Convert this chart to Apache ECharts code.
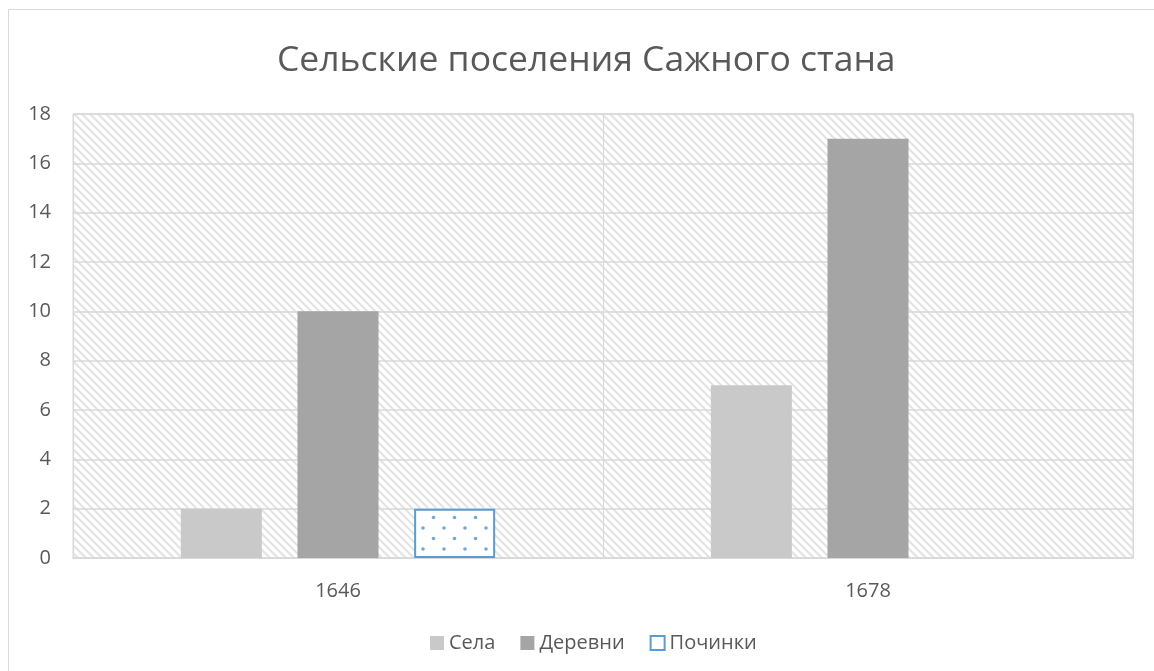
<!DOCTYPE html>
<html>
<head>
<meta charset="utf-8">
<script src="https://cdn.jsdelivr.net/npm/echarts@6/dist/echarts.min.js"></script>
<style>
  html, body { margin: 0; padding: 0; background: #fff; }
  #chart { width: 1154px; height: 671px; }
</style>
</head>
<body>
<div id="chart"></div>
<script>
const years = ['1646', '1678'];
const sela = [2, 7];
const derevni = [10, 17];
const pochinki = [2, null];
const yTicks = { min: 0, max: 18, interval: 2 };

// diagonal hatch for plot background
function makeHatch() {
  const c = document.createElement('canvas');
  c.width = 8; c.height = 8;
  const ctx = c.getContext('2d');
  ctx.fillStyle = '#fff';
  ctx.fillRect(0, 0, 8, 8);
  ctx.strokeStyle = '#e3e3e3';
  ctx.lineWidth = 2;
  ctx.beginPath();
  ctx.moveTo(-2, -2); ctx.lineTo(10, 10);
  ctx.moveTo(-2, 6); ctx.lineTo(2, 10);
  ctx.moveTo(6, -2); ctx.lineTo(10, 2);
  ctx.stroke();
  return c;
}

// dotted fill for the Починки bar
function makeDots() {
  const c = document.createElement('canvas');
  c.width = 21; c.height = 21;
  const ctx = c.getContext('2d');
  ctx.fillStyle = '#fff';
  ctx.fillRect(0, 0, 21, 21);
  ctx.fillStyle = '#6fa8dc';
  [[3, 3], [13.5, 13.5]].forEach(function (p) {
    ctx.beginPath();
    ctx.arc(p[0], p[1], 1.8, 0, Math.PI * 2);
    ctx.fill();
  });
  return c;
}

const chart = echarts.init(document.getElementById('chart'));
const font = '"Open Sans", "Noto Sans", sans-serif';

chart.setOption({
  animation: false,
  textStyle: { fontFamily: font },
  title: {
    text: 'Сельские поселения Сажного стана',
    left: 272,
    top: 38,
    textStyle: { fontSize: 35.5, fontWeight: 'normal', color: '#595959', fontFamily: font }
  },
  graphic: [{
    type: 'rect',
    shape: { x: 8.5, y: 9.5, width: 1160, height: 680 },
    style: { fill: 'none', stroke: '#d9d9d9', lineWidth: 1 },
    silent: true
  }],
  legend: {
    bottom: 13,
    left: 425,
    itemWidth: 14,
    itemHeight: 14,
    itemGap: 25,
    textStyle: { fontSize: 20, color: '#595959', fontFamily: font },
    data: [
      { name: 'Села', icon: 'rect' },
      { name: 'Деревни', icon: 'rect' },
      { name: 'Починки', icon: 'rect', itemStyle: { color: '#fff', borderColor: '#5b9bd5', borderWidth: 2 } }
    ]
  },
  grid: {
    left: 73, right: 21, top: 114, bottom: 113,
    show: true,
    backgroundColor: { image: makeHatch(), repeat: 'repeat' },
    borderColor: '#d9d9d9',
    borderWidth: 1
  },
  xAxis: {
    type: 'category',
    data: years,
    axisLine: { lineStyle: { color: '#d9d9d9', width: 1 } },
    axisTick: { show: false },
    splitLine: { show: true, lineStyle: { color: '#d9d9d9', width: 1 } },
    axisLabel: { fontSize: 20, color: '#595959', margin: 23 }
  },
  yAxis: {
    type: 'value',
    min: yTicks.min,
    max: yTicks.max,
    interval: yTicks.interval,
    axisLine: { show: false },
    axisTick: { show: false },
    splitLine: { lineStyle: { color: '#d9d9d9', width: 1.5 } },
    axisLabel: { fontSize: 20, color: '#595959', margin: 22 }
  },
  series: [
    {
      name: 'Села', type: 'bar', data: sela,
      barWidth: 81, barGap: '44%', barCategoryGap: '41%',
      itemStyle: { color: '#c9c9c9' }
    },
    {
      name: 'Деревни', type: 'bar', data: derevni,
      barWidth: 81,
      itemStyle: { color: '#a5a5a5' }
    },
    {
      name: 'Починки', type: 'bar', data: pochinki,
      barWidth: 81,
      itemStyle: { color: { image: makeDots(), repeat: 'repeat' }, borderColor: '#5b9bd5', borderWidth: 2 }
    }
  ]
});
</script>
</body>
</html>
